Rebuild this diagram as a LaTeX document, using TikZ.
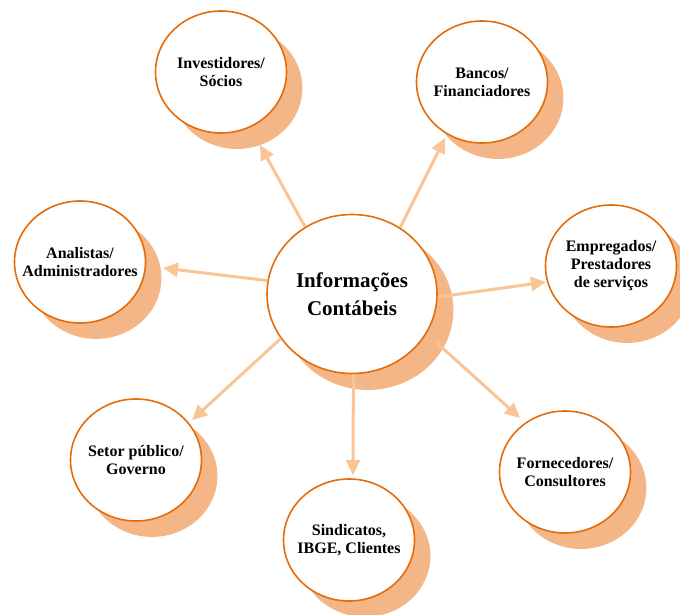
\documentclass[tikz,border=0pt]{standalone}
\usepackage{fontspec}
\setmainfont{Liberation Serif}
\usetikzlibrary{arrows.meta,shapes.geometric}
\definecolor{bord}{HTML}{E46C0A}
\definecolor{shad}{RGB}{244,182,134}
\definecolor{arrc}{RGB}{250,196,148}
\begin{document}
\begin{tikzpicture}[x=1pt,y=-1pt,
  bub/.style={ellipse, draw=bord, line width=1.6pt, fill=white,
    minimum width=131pt, minimum height=122pt, inner sep=-14pt,
    align=center, font=\fontsize{16}{18}\selectfont\bfseries},
  hub/.style={bub, minimum width=170pt, minimum height=159pt,
    font=\fontsize{21}{28}\selectfont\bfseries},
  shbub/.style={fill=shad, draw=shad, line width=0.8pt},
  arr/.style={draw=arrc, line width=3pt, -{Triangle[length=15pt,width=14pt]}}]
\useasboundingbox (0,0) rectangle (680,615);
\clip (0,0) rectangle (680,615);

% shadows
\filldraw[shbub] (368,310) ellipse (85 and 79.5);
\foreach \px/\py in {221/72,482/82,80/262,611/266,565/472,136/460,349/540}
  \filldraw[shbub] (\px+16,\py+16) ellipse (65 and 60.5);

\node[hub] (c) at (352,294) {Informações\\Contábeis};
\node[bub] (inv) at (221,72) {Investidores/\\Sócios};
\node[bub] (ban) at (482,82) {Bancos/\\Financiadores};
\node[bub] (ana) at (80,262) {Analistas/\\Administradores};
\node[bub] (emp) at (611,266) {Empregados/\\Prestadores\\de serviços};
\node[bub] (forn) at (565,472) {Fornecedores/\\Consultores};
\node[bub] (set) at (136,460) {Setor público/\\Governo};
\node[bub] (sin) at (349,540) {Sindicatos,\\IBGE, Clientes};

\coordinate (t1) at (260,145);
\coordinate (t2) at (445,138);
\coordinate (t3) at (163,268);
\coordinate (t4) at (546,282);
\coordinate (t5) at (520,418);
\coordinate (t6) at (192,420);
\coordinate (t7) at (353,475);
\coordinate (s5) at (437,343);

\draw[arr] (c.125) -- (t1);
\draw[arr] (c.54) -- (t2);
\draw[arr] (c.171) -- (t3);
\draw[arr] (c.-2) -- (t4);
\draw[arr] (s5) -- (t5);
\draw[arr] (c.212) -- (t6);
\draw[arr] (c.-89) -- (t7);
\end{tikzpicture}
\end{document}
